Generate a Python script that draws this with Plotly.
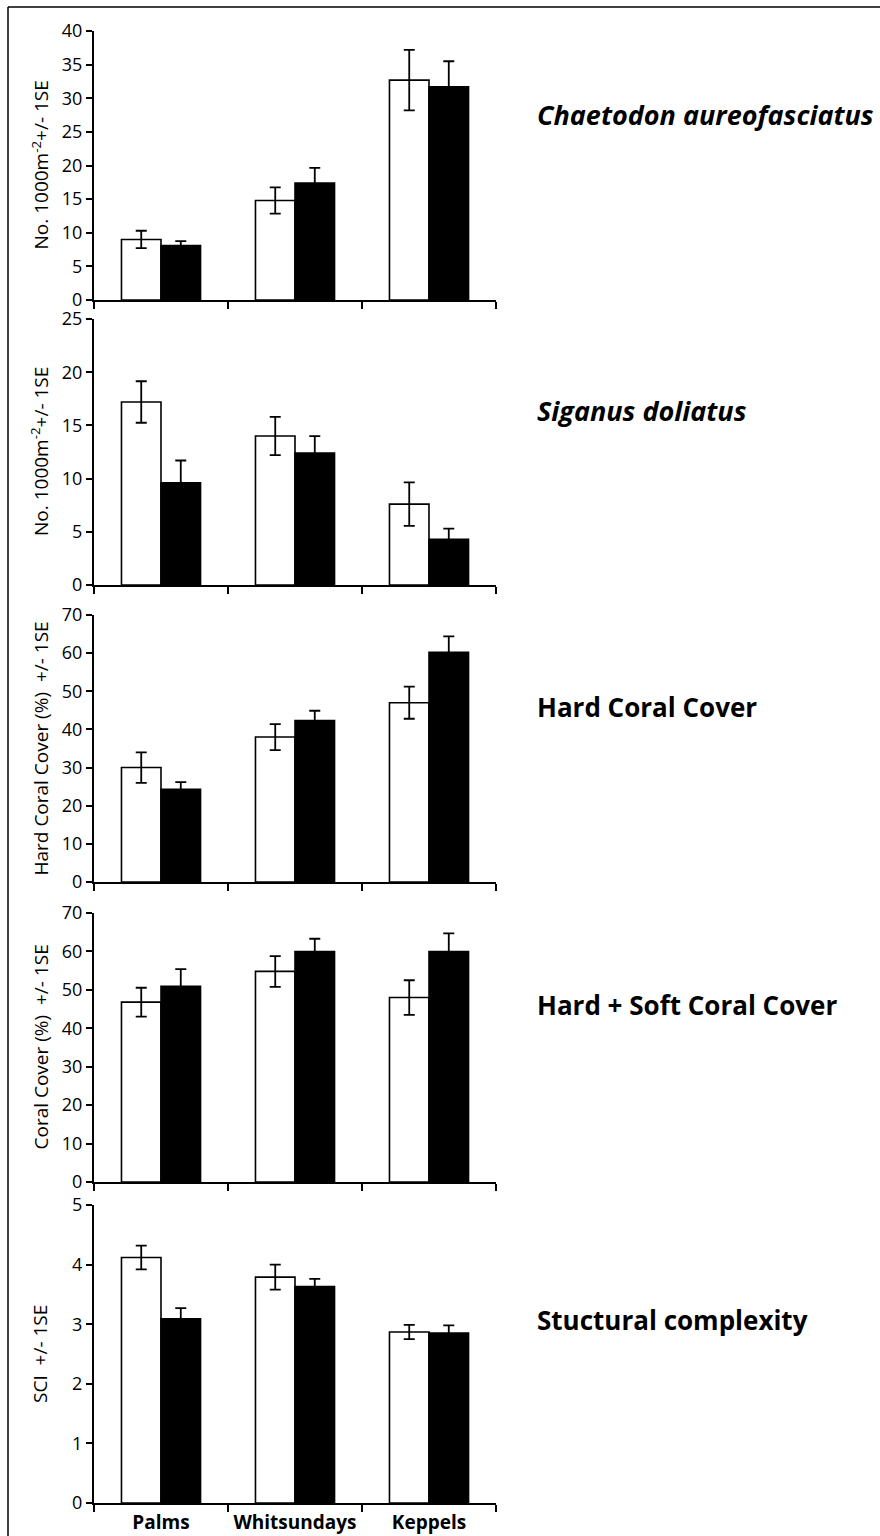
import plotly.graph_objects as go
from plotly.subplots import make_subplots

# Regions (x categories)
regions = ["Palms", "Whitsundays", "Keppels"]

# Chaetodon aureofasciatus density (No. per 1000 m2)
chaet_white = [9.0, 14.8, 32.7]
chaet_white_se = [1.3, 1.95, 4.5]
chaet_black = [8.1, 17.4, 31.7]
chaet_black_se = [0.65, 2.25, 3.8]

# Siganus doliatus density (No. per 1000 m2)
sig_white = [17.2, 14.0, 7.6]
sig_white_se = [1.95, 1.8, 2.05]
sig_black = [9.6, 12.4, 4.3]
sig_black_se = [2.1, 1.6, 1.0]

# Hard coral cover (%)
hard_white = [30.0, 38.0, 47.0]
hard_white_se = [4.0, 3.4, 4.2]
hard_black = [24.3, 42.3, 60.2]
hard_black_se = [1.9, 2.6, 4.2]

# Hard + soft coral cover (%)
total_white = [46.8, 54.8, 48.0]
total_white_se = [3.75, 4.0, 4.5]
total_black = [50.9, 60.0, 60.0]
total_black_se = [4.5, 3.3, 4.7]

# Structural complexity index
sci_white = [4.12, 3.79, 2.87]
sci_white_se = [0.2, 0.21, 0.12]
sci_black = [3.09, 3.63, 2.85]
sci_black_se = [0.18, 0.13, 0.13]

panels = [
    (chaet_white, chaet_white_se, chaet_black, chaet_black_se, 40, 5,
     "No. 1000m<sup>-2</sup>+/- 1SE", "<b><i>Chaetodon aureofasciatus</i></b>", 27),
    (sig_white, sig_white_se, sig_black, sig_black_se, 25, 5,
     "No. 1000m<sup>-2</sup>+/- 1SE", "<b><i>Siganus doliatus</i></b>", 27),
    (hard_white, hard_white_se, hard_black, hard_black_se, 70, 10,
     "Hard Coral Cover (%)  +/- 1SE", "<b>Hard Coral Cover</b>", 26),
    (total_white, total_white_se, total_black, total_black_se, 70, 10,
     "Coral Cover (%)  +/- 1SE", "<b>Hard + Soft Coral Cover</b>", 26),
    (sci_white, sci_white_se, sci_black, sci_black_se, 5, 1,
     "SCI  +/- 1SE", "<b>Stuctural complexity</b>", 26),
]

# figure geometry (pixels)
W, H = 880, 1536
plot_left, plot_right = 94, 496
plot_top, plot_bottom = 31, 1503
panel_px = [(31, 300), (319, 585), (615, 882), (913, 1182), (1205, 1503)]
label_y_px = [115, 410, 707, 1005, 1320]

ph = plot_bottom - plot_top
pw = plot_right - plot_left


def py(p):
    return (plot_bottom - p) / ph


def px(p):
    return (p - plot_left) / pw


FONT = "Open Sans"

fig = make_subplots(rows=5, cols=1)

for i, (w, wse, b, bse, ymax, dt, ytitle, label, lsize) in enumerate(panels):
    row = i + 1
    err = dict(type="data", visible=True, color="black", thickness=1.8, width=5.5)
    fig.add_trace(go.Bar(
        x=regions, y=w, error_y=dict(array=wse, **err),
        marker=dict(color="white", line=dict(color="black", width=1.6)),
        showlegend=False), row=row, col=1)
    fig.add_trace(go.Bar(
        x=regions, y=b, error_y=dict(array=bse, **err),
        marker=dict(color="black", line=dict(color="black", width=1.6)),
        showlegend=False), row=row, col=1)

    top, bot = panel_px[i]
    xa = "xaxis" if row == 1 else f"xaxis{row}"
    ya = "yaxis" if row == 1 else f"yaxis{row}"
    fig.layout[xa].update(
        type="category", range=[-0.5, 2.5], domain=[0, 1],
        tickson="boundaries", ticks="outside", ticklen=7, tickwidth=2,
        tickcolor="black", showline=True, linecolor="black", linewidth=2,
        showgrid=False, zeroline=False, automargin=False,
        showticklabels=(row == 5), ticklabelstandoff=1,
        tickfont=dict(family=FONT, size=19, color="black", weight="bold"),
    )
    fig.layout[ya].update(
        range=[0, ymax], dtick=dt, tick0=0, domain=[py(bot), py(top)],
        ticks="outside", ticklen=6, tickwidth=2, tickcolor="black",
        showline=True, linecolor="black", linewidth=2,
        showgrid=False, zeroline=False, automargin=False,
        tickfont=dict(family=FONT, size=18, color="black"),
    )
    yref = "y domain" if row == 1 else f"y{row} domain"
    fig.add_annotation(
        text=ytitle, textangle=-90, xref="paper", yref=yref,
        x=px(40), y=0.5, xanchor="center", yanchor="middle", showarrow=False,
        font=dict(family=FONT, size=19, color="black"))
    fig.add_annotation(
        text=label, xref="paper", yref="paper",
        x=px(535), y=py(label_y_px[i]), xanchor="left", yanchor="middle",
        showarrow=False, font=dict(family=FONT, size=lsize, color="black"))

# outer frame: top and left edges
fig.add_shape(type="line", xref="paper", yref="paper",
              x0=px(8), x1=px(W + 5), y0=py(7), y1=py(7),
              line=dict(color="black", width=1.5))
fig.add_shape(type="line", xref="paper", yref="paper",
              x0=px(8), x1=px(8), y0=py(7), y1=py(H + 5),
              line=dict(color="black", width=1.5))

fig.update_layout(
    width=W, height=H,
    margin=dict(l=plot_left, r=W - plot_right, t=plot_top, b=H - plot_bottom,
                autoexpand=False),
    barmode="group", bargap=0.41, bargroupgap=0,
    plot_bgcolor="white", paper_bgcolor="white",
    font=dict(family=FONT, color="black"),
)

fig.write_html("out.html")
